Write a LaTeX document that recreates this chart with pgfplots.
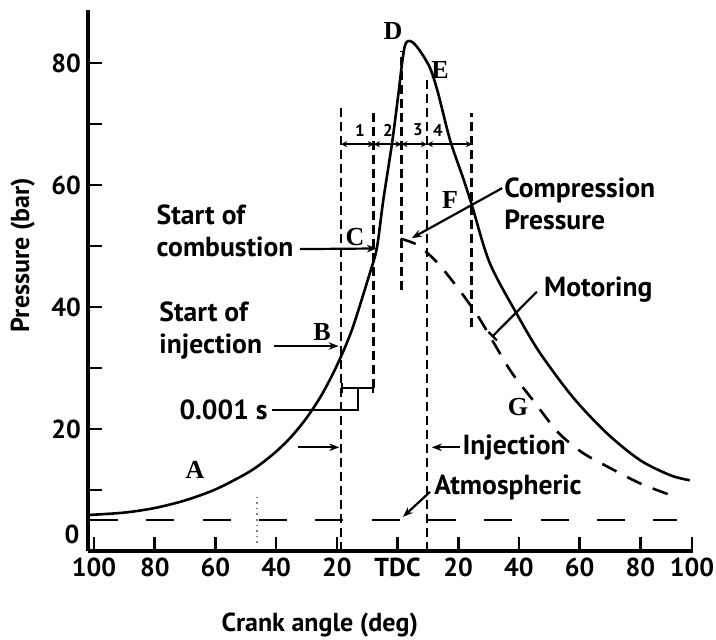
\documentclass[border=0pt]{standalone}
\usepackage{fontspec}
\setmainfont{PT Sans}
\newfontfamily\letterfont{Liberation Serif}
\usepackage{pgfplots}
\pgfplotsset{compat=1.18}
\usetikzlibrary{arrows.meta}

\begin{document}
\begin{tikzpicture}
\tikzset{
  lab/.style={font=\fontsize{13.8}{16}\selectfont\bfseries, align=left, inner sep=0pt},
  lead/.style={line width=1.1pt},
  dimarr/.style={line width=1pt, {Stealth[length=3pt,width=3pt]}-{Stealth[length=3pt,width=3pt]}},
  seg/.style={font=\fontsize{8.5}{9}\selectfont\bfseries, inner sep=0pt},
  ptlab/.style={font=\fontsize{13}{13}\selectfont\letterfont\bfseries, inner sep=0pt},
  vdash/.style={line width=1.4pt, dash pattern=on 4.5pt off 2.5pt},
}
\useasboundingbox (-44pt,-44pt) rectangle (314pt,275.5pt);
\begin{axis}[
    scale only axis,
    width=302.7pt, height=270.5pt,
    xmin=-102, xmax=97.5, ymin=0, ymax=88.7,
    axis lines=left,
    axis line style={line width=1.6pt, -},
    xtick={-100,-80,-60,-40,-20,0,20,40,60,80,97},
    xticklabels={100,80,60,40,20,TDC,20,40,60,80,100},
    ytick={0,10,...,80},
    yticklabels={,,20,,40,,60,,80},
    tick align=inside,
    major tick length=7pt,
    tick style={line width=1.3pt, black},
    ticklabel style={font=\fontsize{13}{15}\selectfont\bfseries},
    /pgf/number format/assume math mode=true,
    xlabel={Crank angle (deg)},
    ylabel={Pressure (bar)},
    label style={font=\fontsize{13}{15}\selectfont\bfseries},
    xlabel style={at={(axis description cs:0.383,-0.137)}, anchor=center},
    ylabel style={at={(axis description cs:-0.108,0.547)}, anchor=center},
    clip=false,
]
% firing curve
\addplot[line width=1.3pt, smooth] coordinates {
    (-102,5.9) (-90,6.3) (-80,7.05) (-70,8.3) (-60,10.1) (-50,12.65)
    (-45,14.3) (-40,16.3) (-35,18.75) (-30,21.8) (-25,25.6) (-20,30.4)
    (-15,36.3) (-9.1,45.6) (-6.8,49.7) (-4.7,57.5)
    (-1.8,66.9) (0.3,75) (1.5,80) (2.4,82.8) (3.4,83.6) (5,83.4)
    (7.4,82) (10.7,79.2) (13.3,75.2) (17.3,67.4) (21.5,61.3) (24.5,56.7)
    (30.4,47.2) (39.5,38.7) (46.9,32.5) (57.8,25.2) (69.0,19.3)
    (79.9,14.9) (90,12.4) (96.3,11.6)
};
% motoring curve
\addplot[line width=1.3pt, dash pattern=on 8pt off 6pt, smooth, tension=0.5] coordinates {
    (1.0,51.2) (6.4,50.2) (12.7,47.5) (19.6,43.3) (26.5,38.5) (32.1,33.8)
    (37.7,29.2) (45.3,24.3) (52.8,19.5) (60.7,16.2) (69.3,13.8)
    (79.9,11.1) (89.7,9.2) (92,8.7)
};
% atmospheric
\addplot[line width=1.3pt, dash pattern=on 14pt off 14.15pt] coordinates {(-101.3,5.1) (92,5.1)};
% vertical markers
\addplot[vdash] coordinates {(-18.6,0) (-18.6,72.6)};
\addplot[vdash] coordinates {(-7.8,26.7) (-7.8,72.3)};
\addplot[vdash] coordinates {(1.3,42.8) (1.3,82)};
\addplot[vdash] coordinates {(9.7,0) (9.7,77.3)};
\addplot[vdash] coordinates {(24.5,36.7) (24.5,71.8)};
\addplot[gray, dotted, line width=0.8pt] coordinates {(-46.3,1.3) (-46.3,8.9)};

% zero label, set a little above the axis as in the original
\node[font=\fontsize{13}{15}\selectfont\bfseries, inner sep=0pt] at (axis cs:-107.3,2.8) {0};

% dimension line with periods
\draw[dimarr] (axis cs:-18.6,66.7) -- (axis cs:-7.8,66.7);
\draw[dimarr] (axis cs:-7.8,66.7) -- (axis cs:1.3,66.7);
\draw[dimarr] (axis cs:1.3,66.7) -- (axis cs:9.7,66.7);
\draw[dimarr] (axis cs:9.7,66.7) -- (axis cs:24.5,66.7);
\node[seg] at (axis cs:-12.4,69.0) {1};
\node[seg] at (axis cs:-3.2,69.0) {2};
\node[seg] at (axis cs:6.7,69.0) {3};
\node[seg] at (axis cs:13.3,69.0) {4};

% annotations
\node[lab, anchor=west] at (axis cs:-79.5,52.5) {Start of\\combustion};
\draw[lead, -{Stealth[length=5pt]}] (axis cs:-32.2,49.5) -- (axis cs:-6.8,49.6);
\node[lab, anchor=west] at (axis cs:-78.6,36.2) {Start of\\injection};
\draw[lead, -{Stealth[length=5pt]}] (axis cs:-40.8,33.6) -- (axis cs:-19.4,33.6);
\node[lab, anchor=east] at (axis cs:-42.7,23.1) {0.001 s};
\draw[lead] (axis cs:-41.3,23.1) -- (axis cs:-13.0,23.1) -- (axis cs:-13.0,26.7);
\draw[lead, {Bar[width=5pt]}-{Bar[width=5pt]}] (axis cs:-18.6,26.7) -- (axis cs:-7.8,26.7);
\draw[lead, -{Stealth[length=5pt]}] (axis cs:-32.8,17) -- (axis cs:-19.2,17);
\draw[lead, -{Stealth[length=5pt]}] (axis cs:20.5,17) -- (axis cs:11.3,17);
\node[lab, anchor=west] at (axis cs:21.3,17) {Injection};
\node[lab, anchor=west] at (axis cs:12.0,10.5) {Atmospheric};
\draw[lead, -{Stealth[length=5pt]}] (axis cs:10.7,9.7) -- (axis cs:1.8,5.6);
\node[lab, anchor=west] at (axis cs:35.1,57.0) {Compression\\Pressure};
\draw[lead, -{Stealth[length=5pt]}] (axis cs:34.5,59.5) -- (axis cs:4.7,51.3);
\node[lab, anchor=west] at (axis cs:48.2,42.8) {Motoring};
\draw[lead, -{Bar[width=6pt]}] (axis cs:45.9,42.5) -- (axis cs:31.1,35.1);

% point letters
\node[ptlab] at (axis cs:-66.7,13.3) {A};
\node[ptlab] at (axis cs:-24.9,35.9) {B};
\node[ptlab] at (axis cs:-14.0,51.5) {C};
\node[ptlab] at (axis cs:-1.5,85.3) {D};
\node[ptlab] at (axis cs:14.0,78.9) {E};
\node[ptlab] at (axis cs:17.3,57.5) {F};
\node[ptlab] at (axis cs:39.7,23.6) {G};
\end{axis}
\end{tikzpicture}
\end{document}
